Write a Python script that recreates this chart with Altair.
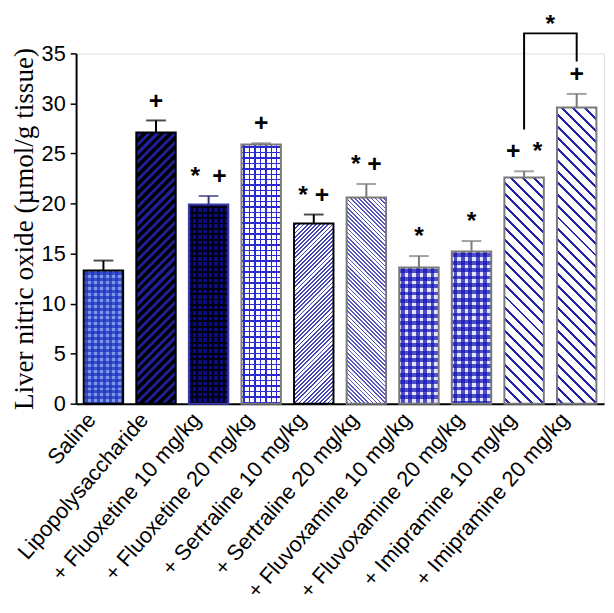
import altair as alt
import pandas as pd

# ---------------- data ----------------
groups = [
    "Saline",
    "Lipopolysaccharide",
    "+ Fluoxetine 10 mg/kg",
    "+ Fluoxetine 20 mg/kg",
    "+ Sertraline 10 mg/kg",
    "+ Sertraline 20 mg/kg",
    "+ Fluvoxamine 10 mg/kg",
    "+ Fluvoxamine 20 mg/kg",
    "+ Imipramine 10 mg/kg",
    "+ Imipramine 20 mg/kg",
]
means = [13.3, 27.1, 19.9, 25.9, 18.0, 20.6, 13.6, 15.2, 22.6, 29.6]
sems = [1.0, 1.2, 0.85, 0.12, 0.9, 1.35, 1.15, 1.05, 0.62, 1.35]
marks = ["", "+", "*\u2002+", "+", "* +", "* +", "*", "*", "+\u2002*", "+"]
bracket_groups = ["+ Imipramine 10 mg/kg", "+ Imipramine 10 mg/kg",
                  "+ Imipramine 20 mg/kg", "+ Imipramine 20 mg/kg"]
bracket_values = [27.4, 37.0, 37.0, 34.2]
bracket_order = [0, 1, 2, 3]
bracket_star = "*"
bracket_star_value = 37.9
y_ticks = [0, 5, 10, 15, 20, 25, 30, 35]
y_title = "Liver nitric oxide (\u00b5mol/g tissue)"

df = pd.DataFrame({"group": groups, "mean": means, "sem": sems, "mark": marks,
                   "idx": list(range(len(groups)))})
bdf = pd.DataFrame({"group": bracket_groups, "value": bracket_values,
                    "order": bracket_order})
sdf = pd.DataFrame({"group": [bracket_groups[-1]], "value": [bracket_star_value],
                    "mark": [bracket_star]})

# ---------------- layout / style ----------------
W, H = 535, 355
YMAX = 35
P_IN, P_OUT = 0.25, 0.145
n = len(groups)
step = W / (n - P_IN + 2 * P_OUT)
bw = step * (1 - P_IN)
CLEAR = "rgba(255,255,255,0)"

GRAY = "#7a7a7a"
CHK1 = "rgba(28,50,190,0.72)"
CHK2 = "rgba(20,20,180,0.72)"
# (base colour, [(kind, period, line width, colour)], outline colour)
styles = [
    ("#8098ec", [("h", 6, 3, CHK1), ("v", 6, 3, CHK1)], "black"),
    ("#000000", [("up", 9, 4.2, "#1e1e96")], "black"),
    ("#0b0b84", [("h", 5.5, 1.9, "#020214"), ("v", 5.5, 1.9, "#020214")], "#3a3aa8"),
    ("#ffffff", [("h", 5.5, 1.5, "#2a2ad0"), ("v", 5.5, 1.5, "#2a2ad0")], GRAY),
    ("#ffffff", [("up", 4.2, 1.9, "#4444b4")], "black"),
    ("#ffffff", [("down", 4.2, 1.7, "#5656bc")], GRAY),
    ("#e4e4ff", [("h", 7.5, 3.75, CHK2), ("v", 7.5, 3.75, CHK2)], GRAY),
    ("#e4e4ff", [("h", 7.5, 3.75, CHK2), ("v", 7.5, 3.75, CHK2)], GRAY),
    ("#ffffff", [("down", 11.5, 3.0, "#2424aa")], GRAY),
    ("#ffffff", [("down", 11.5, 3.0, "#2424aa")], GRAY),
]
cap_colors = ["black", "black", "#33337a", GRAY, "black", GRAY, GRAY, GRAY, GRAY, GRAY]


def stripe_gradient(kind, w, h, period, lw, color):
    if kind == "h":
        L = h
        x1, y1, x2, y2 = 0, 0, 0, 1
    elif kind == "v":
        L = w
        x1, y1, x2, y2 = 0, 0, 1, 0
    elif kind == "up":
        L = w + h
        s = (w + h) / (w * w + h * h)
        x1, y1, x2, y2 = 0, 0, w * s, h * s
    else:  # down
        L = w + h
        s = (w + h) / (w * w + h * h)
        x1, y1, x2, y2 = 0, 1, w * s, 1 - h * s
    stops = [alt.GradientStop(offset=0, color=CLEAR)]
    a = period / 2 - lw / 2
    while a < L:
        b = min(a + lw, L)
        o1, o2 = round(a / L, 6), round(b / L, 6)
        stops += [alt.GradientStop(offset=o1, color=CLEAR),
                  alt.GradientStop(offset=o1, color=color),
                  alt.GradientStop(offset=o2, color=color),
                  alt.GradientStop(offset=o2, color=CLEAR)]
        a += period
    stops.append(alt.GradientStop(offset=1, color=CLEAR))
    return alt.Gradient(gradient="linear", stops=stops,
                        x1=round(x1, 6), y1=round(y1, 6),
                        x2=round(x2, 6), y2=round(y2, 6))


x_enc = alt.X("group:N", sort=groups, title=None,
              scale=alt.Scale(paddingInner=P_IN, paddingOuter=P_OUT),
              axis=alt.Axis(labelAngle=-49, labelFontSize=22,
                            labelFont="Liberation Sans", labelColor="black",
                            ticks=False, domainColor="black", domainWidth=2,
                            labelPadding=12, labelOffset=-12, labelLimit=400))
y_scale = alt.Scale(domain=[0, YMAX], nice=False)
y_axis = alt.Axis(values=y_ticks, tickSize=6, tickWidth=1.5, tickColor="black",
                  domainColor="black", domainWidth=2, labelFontSize=22,
                  labelFont="Liberation Sans", labelColor="black", labelPadding=5,
                  grid=False, title=y_title, titleFont="Liberation Serif",
                  titleFontSize=27.5, titleFontWeight="normal", titleColor="black",
                  titleX=-44, titleY=H / 2, titleAngle=270,
                  titleBaseline="alphabetic", titleAlign="center")

layers = []
for i, g in enumerate(groups):
    base_col, overlays, outline = styles[i]
    h_px = means[i] / YMAX * H
    src = alt.Chart(df).transform_filter(alt.datum.idx == i)
    y_enc = alt.Y("mean:Q", scale=y_scale, axis=y_axis)
    layers.append(src.mark_bar(fill=base_col).encode(x=x_enc, y=y_enc))
    for kind, period, lw, col in overlays:
        grad = stripe_gradient(kind, bw, h_px, period, lw, col)
        layers.append(src.mark_bar(fill=grad).encode(x=x_enc, y=y_enc))
    layers.append(src.mark_bar(fillOpacity=0, stroke=outline, strokeWidth=2)
                  .encode(x=x_enc, y=y_enc))
    err = src.transform_calculate(top="datum.mean + datum.sem")
    layers.append(err.mark_rule(color=cap_colors[i], strokeWidth=2)
                  .encode(x=x_enc, y=alt.Y("mean:Q", scale=y_scale, axis=y_axis),
                          y2="top:Q"))
    layers.append(err.mark_tick(color=cap_colors[i], thickness=2, size=20,
                                orient="horizontal")
                  .encode(x=x_enc, y=alt.Y("top:Q", scale=y_scale, axis=y_axis)))

ann = (alt.Chart(df).transform_calculate(top="datum.mean + datum.sem")
       .mark_text(font="Liberation Sans", fontSize=25, fontWeight="bold",
                  color="black", dy=-20, baseline="middle")
       .encode(x=x_enc, y=alt.Y("top:Q", scale=y_scale, axis=y_axis), text="mark:N"))

bracket = (alt.Chart(bdf).mark_line(color="black", strokeWidth=2)
           .encode(x=x_enc, y=alt.Y("value:Q", scale=y_scale, axis=y_axis),
                   order="order:Q"))
star = (alt.Chart(sdf).mark_text(font="Liberation Sans", fontSize=25,
                                  fontWeight="bold", color="black",
                                  dx=-step / 2, baseline="middle")
        .encode(x=x_enc, y=alt.Y("value:Q", scale=y_scale, axis=y_axis),
                text="mark:N"))

chart = (alt.layer(*layers, ann, bracket, star)
         .properties(width=W, height=H,
                     autosize=alt.AutoSizeParams(type="none"),
                     padding={"left": 69, "top": 42, "right": 2, "bottom": 200})
         .configure_view(stroke=None)
         .configure(background="white"))

chart.save("out.html", embed_options={"renderer": "svg", "actions": False})
